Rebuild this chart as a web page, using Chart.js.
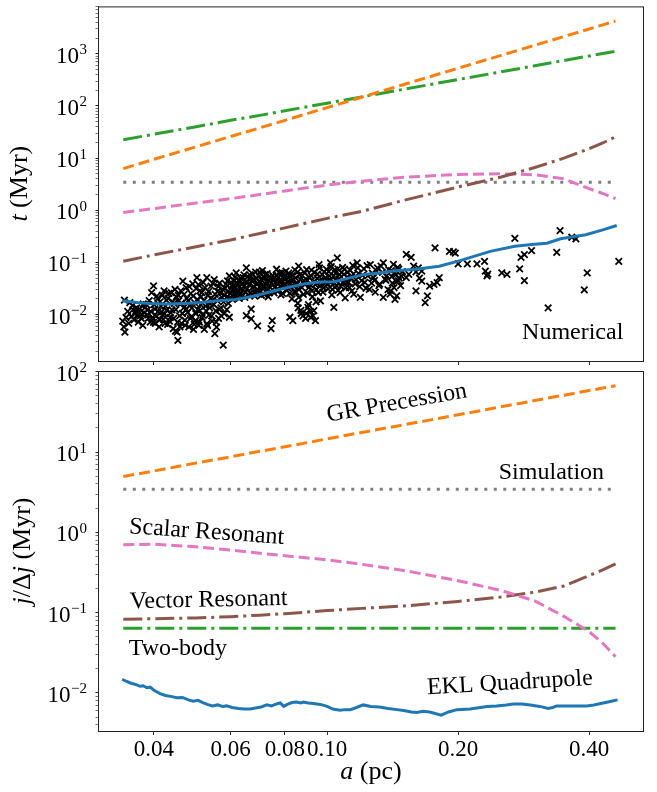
<!DOCTYPE html>
<html>
<head>
<meta charset="utf-8">
<script src="https://cdn.jsdelivr.net/npm/chart.js@4.4.1/dist/chart.umd.min.js"></script>
<style>
  html, body { margin: 0; padding: 0; background: #fff; }
  #lienzo { position: relative; width: 657px; height: 792px; }
  #lienzo canvas { position: absolute; left: 0; }
</style>
</head>
<body>
<div id="lienzo">
  <canvas id="panel-superior" width="657" height="368" style="top:0"></canvas>
  <canvas id="panel-inferior" width="657" height="447" style="top:345px"></canvas>
</div>
<script>
// Semiejes a (pc) comunes a las curvas suaves
const aCurvas = [0.034, 0.04, 0.05, 0.06, 0.07, 0.08, 0.10, 0.12, 0.15, 0.20, 0.25, 0.30, 0.35, 0.40, 0.43, 0.46];

// Panel superior: t (Myr)
const grSup       = [6.3, 9.5, 16.5, 26, 38, 53, 93, 147, 258, 529, 923, 1456, 2140, 2990, 3590, 4240];
const dosCuerposSup = [22.5, 28.7, 40, 53, 66, 81, 113, 149, 209, 321, 448, 589, 743, 908, 1012, 1120];
const escalarSup  = [0.91, 1.08, 1.38, 1.67, 2.0, 2.35, 3.05, 3.6, 4.3, 4.85, 5.0, 4.8, 4.0, 2.6, 2.1, 1.67];
const vectorSup   = [0.105, 0.14, 0.2, 0.27, 0.36, 0.46, 0.70, 0.95, 1.55, 2.8, 4.3, 6.6, 10, 15.2, 19.5, 25.7];
const simulacion  = [3.45, 3.45, 3.45, 3.45, 3.45, 3.45, 3.45, 3.45, 3.45, 3.45, 3.45, 3.45, 3.45, 3.45, 3.45, 3.45];

const eklSupA = [0.0338, 0.0365, 0.039, 0.0428, 0.047, 0.0513, 0.056, 0.0615, 0.0668, 0.073, 0.0798, 0.0891,
  0.096, 0.104, 0.112, 0.1216, 0.132, 0.145, 0.158, 0.181, 0.202, 0.237, 0.27, 0.295, 0.32, 0.344, 0.393, 0.43, 0.463];
const eklSupT = [0.0184, 0.0170, 0.0164, 0.0159, 0.0164, 0.0171, 0.0184, 0.0195, 0.0219, 0.0265, 0.032, 0.0392,
  0.0420, 0.0428, 0.0500, 0.059, 0.063, 0.070, 0.073, 0.0847, 0.1086, 0.163, 0.205, 0.22, 0.234, 0.284, 0.339, 0.42, 0.51];

// Resultados numéricos [a, t]
const numerico = [
  [0.0339,0.0075],[0.0341,0.0058],[0.0343,0.0046],[0.0342,0.019],[0.0352,0.017],[0.0362,0.0105],[0.0366,0.0098],
  [0.0369,0.011],[0.0372,0.0095],[0.0365,0.0135],[0.0358,0.0125],[0.0375,0.0102],
  [0.0378,0.016],[0.0382,0.0138],[0.0386,0.0122],[0.0388,0.0085],[0.0392,0.0072],[0.0395,0.0265],[0.0399,0.0354],
  [0.0399,0.0071],[0.0402,0.0128],[0.0405,0.0095],[0.0408,0.0205],[0.0411,0.0058],[0.0413,0.0175],[0.0416,0.0112],
  [0.0418,0.0235],[0.0420,0.0082],
  [0.0423,0.0103],[0.0425,0.0145],[0.0427,0.019],[0.0430,0.0065],[0.0433,0.0255],[0.0436,0.0088],[0.0438,0.0265],
  [0.0440,0.0123],[0.0443,0.0054],[0.0445,0.0165],[0.0448,0.0048],[0.0450,0.022],[0.0452,0.0046],[0.0454,0.0032],
  [0.0456,0.0184],[0.0458,0.0095],[0.0461,0.0285],[0.0463,0.0068],[0.0466,0.044],[0.0468,0.0135],
  [0.0471,0.0078],[0.0474,0.033],[0.0476,0.0205],[0.0478,0.011],[0.0481,0.0058],[0.0483,0.0148],[0.0486,0.0255],
  [0.0488,0.0092],[0.0491,0.039],[0.0493,0.0052],[0.0496,0.017],[0.0498,0.0077],[0.0500,0.0315],[0.0502,0.051],
  [0.0504,0.0125],[0.0507,0.0062],[0.0510,0.0119],[0.0510,0.0285],[0.0513,0.022],[0.0516,0.0088],
  [0.0519,0.0415],[0.0522,0.0052],[0.0525,0.0145],[0.0529,0.051],[0.0529,0.0067],[0.0532,0.0235],[0.0535,0.0098],
  [0.0538,0.016],[0.0541,0.035],[0.0544,0.0075],[0.0548,0.0195],[0.0550,0.047],[0.0552,0.0043],[0.0555,0.0118],
  [0.0557,0.00575],[0.0560,0.028],[0.0563,0.0085],[0.0566,0.04],[0.0570,0.0135],[0.0573,0.0215],[0.0577,0.0026],
  [0.0580,0.0105],[0.0583,0.032],[0.0587,0.0213],[0.0590,0.0445],[0.0593,0.0165],[0.0596,0.0089],[0.0596,0.055],
  [0.0600,0.0255],[0.0603,0.036],[0.0606,0.0195],[0.0609,0.0306],[0.0612,0.045],[0.0615,0.0235],[0.0618,0.063],
  [0.0621,0.028],[0.0624,0.038],[0.0628,0.0205],[0.0632,0.05],[0.0635,0.031],[0.0638,0.0225],
  [0.0641,0.051],[0.0645,0.035],[0.0648,0.027],[0.0652,0.079],[0.0652,0.0096],[0.0656,0.042],[0.0660,0.024],
  [0.0664,0.058],[0.0669,0.0128],[0.0669,0.0083],[0.0673,0.033],[0.0677,0.046],[0.0681,0.0265],[0.0685,0.065],
  [0.0689,0.038],[0.0692,0.0061],[0.0695,0.029],[0.0698,0.055],[0.0702,0.043],[0.0706,0.0235],[0.0710,0.07],[0.0714,0.034],
  [0.0718,0.05],[0.0722,0.028],[0.0724,0.038],[0.0728,0.061],[0.0732,0.022],[0.0736,0.045],[0.0740,0.033],
  [0.0743,0.0054],[0.0748,0.0077],[0.0750,0.056],[0.0755,0.026],[0.0760,0.041],[0.0765,0.074],[0.0770,0.031],
  [0.0774,0.052],[0.0778,0.044],[0.0783,0.024],[0.0788,0.064],[0.0792,0.036],[0.0797,0.048],
  [0.0804,0.068],[0.0808,0.029],[0.0813,0.042],[0.0818,0.055],[0.0821,0.0089],[0.0825,0.034],[0.0830,0.02],
  [0.0834,0.0077],[0.0838,0.047],[0.0843,0.072],[0.0848,0.027],[0.0852,0.038],[0.0856,0.0165],[0.0860,0.085],
  [0.0860,0.0213],[0.0865,0.058],[0.0870,0.012],[0.0875,0.033],[0.0880,0.0095],[0.0885,0.045],[0.0889,0.063],[0.0895,0.0105],
  [0.0900,0.026],[0.0903,0.0138],[0.0908,0.052],[0.0912,0.038],[0.0917,0.0089],[0.0920,0.071],[0.0925,0.022],
  [0.0932,0.0119],[0.0936,0.043],[0.0940,0.0077],[0.0945,0.03],[0.0950,0.06],[0.0958,0.091],[0.0962,0.035],
  [0.0965,0.0184],[0.0970,0.048],[0.0978,0.027],[0.0985,0.066],[0.0992,0.04],[0.1000,0.044],
  [0.1005,0.031],[0.1012,0.055],[0.1018,0.098],[0.1025,0.024],[0.1030,0.037],[0.1036,0.0138],[0.1042,0.072],
  [0.1048,0.045],[0.1055,0.122],[0.1060,0.029],[0.1068,0.058],[0.1075,0.035],[0.1085,0.08],[0.1093,0.059],
  [0.1100,0.021],[0.1108,0.042],[0.1115,0.065],[0.1125,0.033],[0.1135,0.05],[0.1145,0.088],
  [0.1151,0.0247],[0.1160,0.039],[0.1172,0.098],[0.1180,0.062],[0.1192,0.0213],[0.1200,0.045],[0.1215,0.075],
  [0.1228,0.032],[0.1240,0.055],[0.1256,0.091],[0.1265,0.04],[0.1278,0.051],[0.1290,0.027],[0.1300,0.068],
  [0.1315,0.036],[0.1330,0.085],[0.1346,0.098],[0.1346,0.0213],[0.1358,0.048],[0.1370,0.055],[0.1380,0.03],[0.1395,0.0247],
  [0.1400,0.0285],[0.1405,0.07],[0.1412,0.04],[0.1420,0.092],[0.1425,0.033],[0.1432,0.0196],[0.1438,0.058],
  [0.1445,0.0229],[0.1452,0.08],[0.1458,0.045],[0.1465,0.05],[0.1475,0.036],[0.1490,0.067],[0.1520,0.051],
  [0.1520,0.143],[0.1540,0.059],[0.1560,0.125],[0.1580,0.085],[0.1600,0.066],[0.1600,0.0285],[0.1620,0.079],
  [0.1630,0.05],[0.1650,0.044],[0.1650,0.068],[0.1680,0.017],[0.1700,0.0229],[0.1720,0.035],[0.1760,0.038],
  [0.1770,0.19],[0.1790,0.041],[0.1810,0.051],[0.1910,0.163],[0.1950,0.16],[0.1970,0.151],[0.2000,0.094],
  [0.2100,0.094],[0.2210,0.094],[0.2300,0.105],[0.2310,0.068],[0.2330,0.055],[0.2340,0.06],[0.2520,0.063],
  [0.2590,0.059],[0.2700,0.29],[0.2770,0.075],[0.2790,0.125],[0.2840,0.141],[0.2840,0.045],[0.2950,0.168],
  [0.3220,0.0134],[0.3370,0.156],[0.3430,0.407],[0.3650,0.304],[0.3730,0.284],[0.3900,0.0297],[0.3960,0.063],[0.4680,0.105],
  // zona densa
  [0.0345,0.0088],[0.0348,0.0115],[0.0350,0.0068],[0.0355,0.0092],[0.0357,0.0148],[0.0360,0.0079],[0.0363,0.0115],
  [0.0368,0.0072],[0.0371,0.0128],[0.0374,0.0085],[0.0377,0.0062],[0.0380,0.0108],[0.0384,0.0155],[0.0387,0.0098],
  [0.0390,0.0185],[0.0393,0.0115],[0.0397,0.0088],[0.0400,0.0155],[0.0403,0.0068],[0.0406,0.0225],[0.0409,0.0115],
  [0.0412,0.0078],[0.0415,0.0145],[0.0419,0.0098],[0.0422,0.0285],[0.0424,0.0068],[0.0428,0.0122],[0.0431,0.0205],
  [0.0434,0.0075],[0.0437,0.0108],[0.0441,0.0175],[0.0444,0.0085],[0.0447,0.0305],[0.0449,0.0125],[0.0453,0.0072],
  [0.0455,0.0235],
  [0.0459,0.0058],[0.0462,0.0165],[0.0465,0.0105],[0.0469,0.0245],[0.0472,0.0062],[0.0475,0.0128],[0.0479,0.0185],
  [0.0482,0.0345],[0.0485,0.0085],[0.0489,0.0135],[0.0492,0.0225],[0.0495,0.0065],[0.0499,0.0105],[0.0503,0.0195],
  [0.0506,0.0375],[0.0509,0.0072],[0.0512,0.0155],[0.0515,0.0265],[0.0518,0.0098],[0.0521,0.0185],[0.0524,0.0325],
  [0.0527,0.0118],[0.0531,0.0062],[0.0534,0.0275],[0.0537,0.0135],[0.0540,0.0205],[0.0543,0.0095],[0.0546,0.0395],
  [0.0549,0.0155],[0.0553,0.0245],[0.0556,0.0072],[0.0559,0.0185],[0.0562,0.0345],[0.0565,0.0125],[0.0568,0.0265],
  [0.0571,0.0095],[0.0575,0.0305],[0.0578,0.0175],[0.0581,0.0235],[0.0585,0.0385],[0.0588,0.0125],[0.0591,0.0275],
  [0.0595,0.0205],
  [0.0601,0.0415],[0.0604,0.0285],[0.0608,0.0225],[0.0611,0.0355],[0.0614,0.0525],[0.0617,0.0265],[0.0620,0.0405],
  [0.0623,0.0215],[0.0627,0.0335],[0.0630,0.0455],[0.0634,0.0255],[0.0637,0.0385],[0.0640,0.0295],[0.0644,0.0575],
  [0.0647,0.0215],[0.0651,0.0425],[0.0655,0.0315],[0.0658,0.0535],[0.0662,0.0375],[0.0666,0.0255],[0.0670,0.0445],
  [0.0674,0.0605],[0.0678,0.0345],[0.0682,0.0225],[0.0686,0.0495],[0.0690,0.0305],[0.0694,0.0395],[0.0699,0.0655],
  [0.0703,0.0275],[0.0708,0.0455],[0.0712,0.0355],[0.0716,0.0245],[0.0720,0.0585],[0.0726,0.0425],[0.0730,0.0315],
  [0.0734,0.0525],[0.0738,0.0265],[0.0744,0.0395],[0.0752,0.0475],[0.0758,0.0335],[0.0763,0.0565],[0.0768,0.0405],
  [0.0772,0.0285],[0.0777,0.0625],[0.0781,0.0355],[0.0786,0.0455],[0.0790,0.0255],[0.0795,0.0545],
  [0.0801,0.0385],[0.0806,0.0495],[0.0811,0.0325],[0.0816,0.0625],[0.0820,0.0255],[0.0827,0.0445],[0.0832,0.0565],
  [0.0836,0.0355],[0.0841,0.0275],[0.0846,0.0505],[0.0850,0.0395],[0.0855,0.0655],[0.0858,0.0135],[0.0862,0.0305],
  [0.0867,0.0475],[0.0872,0.0105],[0.0877,0.0565],[0.0882,0.0245],[0.0887,0.0385],[0.0892,0.0085],[0.0897,0.0725],
  [0.0901,0.0455],[0.0906,0.0155],[0.0910,0.0335],[0.0915,0.0115],[0.0919,0.0555],[0.0923,0.0285],[0.0928,0.0095],
  [0.0934,0.0645],[0.0939,0.0375],[0.0943,0.0175],[0.0948,0.0495],[0.0954,0.0265],[0.0960,0.0785],[0.0968,0.0425],
  [0.0975,0.0585],[0.0982,0.0325],[0.0989,0.0505],[0.0996,0.0735],
  [0.1002,0.0385],[0.1009,0.0665],[0.1015,0.0455],[0.1022,0.0835],[0.1028,0.0305],[0.1034,0.0545],[0.1040,0.0405],
  [0.1046,0.0625],[0.1052,0.0355],[0.1058,0.0755],[0.1064,0.0485],[0.1071,0.0265],[0.1079,0.0645],[0.1089,0.0425],
  [0.1096,0.0745],[0.1104,0.0325],[0.1112,0.0525],[0.1120,0.0415],[0.1130,0.0705],[0.1140,0.0285],[0.1150,0.0605],
  [0.1165,0.0465],[0.1176,0.0785],[0.1188,0.0345],[0.1205,0.0565],[0.1220,0.0415],[0.1235,0.0865],[0.1250,0.0305],
  [0.1270,0.0625],[0.1285,0.0455],[0.1305,0.0785],[0.1320,0.0385],[0.1340,0.0645],[0.1365,0.0455],[0.1385,0.0725],
  [0.1408,0.0535],[0.1428,0.0635],[0.1442,0.0435],[0.1460,0.0745],[0.1480,0.0555]
];

// Panel inferior: j/Δj (Myr)
const grInf        = [4.95, 5.8, 7.3, 8.7, 10.2, 11.6, 14.6, 17.5, 21.8, 29.1, 36.4, 43.7, 51, 58.2, 62.6, 67];
const escalarInf   = [0.70, 0.71, 0.66, 0.60, 0.55, 0.51, 0.455, 0.40, 0.335, 0.25, 0.19, 0.14, 0.09, 0.058, 0.0416, 0.0283];
const vectorInf    = [0.083, 0.084, 0.086, 0.089, 0.093, 0.097, 0.106, 0.113, 0.121, 0.138, 0.156, 0.18, 0.215, 0.29, 0.34, 0.405];
const dosCuerposInf = [0.064, 0.064, 0.064, 0.064, 0.064, 0.064, 0.064, 0.064, 0.064, 0.064, 0.064, 0.064, 0.064, 0.064, 0.064, 0.064];

const eklInfA = [0.0338, 0.0345, 0.0352, 0.0358, 0.0365, 0.0372, 0.0378, 0.0385, 0.0392, 0.0400, 0.0413, 0.0425,
  0.0440, 0.0451, 0.0465, 0.0480, 0.0492, 0.0505, 0.0518, 0.0530, 0.0545, 0.0560, 0.0575, 0.0587, 0.0605, 0.0625,
  0.0645, 0.0665, 0.0685, 0.0705, 0.0727, 0.0745, 0.0765, 0.0780, 0.0795, 0.0810, 0.0830, 0.0850, 0.0870, 0.0882,
  0.0905, 0.0930, 0.0964, 0.1000, 0.1030, 0.1070, 0.1100, 0.1130, 0.1160, 0.1210, 0.1260, 0.1320, 0.1380, 0.1450,
  0.1510, 0.1560, 0.1610, 0.1660, 0.1720, 0.1780, 0.1830, 0.1900, 0.1990, 0.2130, 0.2250, 0.2330, 0.2450, 0.2580,
  0.2680, 0.2800, 0.2930, 0.3080, 0.3220, 0.3300, 0.3370, 0.3550, 0.3750, 0.3950, 0.4100, 0.4310, 0.4500, 0.4650];
const eklInfJ = [0.0148, 0.0140, 0.0134, 0.0130, 0.0126, 0.0121, 0.0123, 0.0116, 0.0118, 0.0108, 0.0098, 0.0093,
  0.0090, 0.0087, 0.0088, 0.0082, 0.0079, 0.0081, 0.0076, 0.0072, 0.0069, 0.0071, 0.0068, 0.0069, 0.0066, 0.0064,
  0.0063, 0.0063, 0.0065, 0.0067, 0.0071, 0.0069, 0.0073, 0.0075, 0.0068, 0.0072, 0.0076, 0.0077, 0.0075, 0.0077,
  0.0075, 0.0074, 0.0072, 0.0068, 0.0063, 0.0061, 0.0062, 0.0062, 0.0065, 0.0071, 0.0068, 0.0067, 0.0064, 0.0062,
  0.0060, 0.0058, 0.0057, 0.0059, 0.0058, 0.0055, 0.0053, 0.0058, 0.0062, 0.0063, 0.0066, 0.0068, 0.0069, 0.0071,
  0.0073, 0.0073, 0.0071, 0.0068, 0.0064, 0.0066, 0.0069, 0.0069, 0.0069, 0.0069, 0.0071, 0.0075, 0.0079, 0.0082];

// Marcas del eje x
const marcasA = [0.04, 0.06, 0.08, 0.10, 0.20, 0.40];

const FUENTE = "'Liberation Serif', 'Times New Roman', 'DejaVu Serif', serif";
const TAM_MARCA = 23;
const TAM_EXPONENTE = 15;
const TAM_NOTA = 24;
const TAM_TITULO = 26;

Chart.defaults.font.family = FUENTE;
Chart.defaults.color = '#000';

function exponente(valor) {
  const e = Math.log10(valor);
  return Math.abs(e - Math.round(e)) < 1e-9 ? Math.round(e) : null;
}

// Marcas 1..9 x 10^n dentro del rango
function marcasLog(min, max) {
  const marcas = [];
  for (let e = Math.floor(Math.log10(min)); e <= Math.ceil(Math.log10(max)); e++) {
    for (let m = 1; m <= 9; m++) {
      const v = m * Math.pow(10, e);
      if (v >= min && v <= max) marcas.push(v);
    }
  }
  return marcas;
}

function serie(xs, ys) {
  return xs.map((x, i) => ({ x: x, y: ys[i] }));
}

function linea(datos, color, ancho, trazo) {
  return { data: datos, borderColor: color, borderWidth: ancho, borderDash: trazo,
    pointRadius: 0, fill: false, tension: 0 };
}

function ejeX(conEtiquetas, alto) {
  return {
    type: 'logarithmic', min: 0.0299, max: 0.532,
    afterBuildTicks: s => { s.ticks = marcasA.map(v => ({ value: v })); },
    afterFit: s => { s.height = alto; s.paddingLeft = 0; s.paddingRight = 0; },
    ticks: { display: conEtiquetas, autoSkip: false, maxRotation: 0, padding: 1,
      font: { size: TAM_MARCA }, color: '#000', callback: v => Number(v).toFixed(2) },
    grid: { drawOnChartArea: false, drawTicks: true, tickLength: 4, tickColor: '#333' },
    border: { display: false }
  };
}

// Las etiquetas 10^n se dibujan en el plugin (con exponente)
function ejeY(min, max) {
  return {
    type: 'logarithmic', min: min, max: max,
    afterBuildTicks: s => { s.ticks = marcasLog(min, max).map(v => ({ value: v })); },
    afterFit: s => { s.width = 99; s.paddingTop = 0; s.paddingBottom = 0; },
    ticks: { display: false, autoSkip: false },
    grid: { drawOnChartArea: false, drawTicks: true, tickLength: 3.5,
      tickColor: c => (exponente(c.tick.value) !== null ? '#222' : '#777') },
    border: { display: false }
  };
}

function dibujarMixto(ctx, partes, x, y, giro, base) {
  ctx.save();
  ctx.translate(x, y);
  ctx.rotate(giro);
  ctx.textBaseline = base;
  ctx.textAlign = 'left';
  const fuente = p => (p.cursiva ? 'italic ' : '') + TAM_TITULO + 'px ' + FUENTE;
  let total = 0;
  partes.forEach(p => { ctx.font = fuente(p); total += ctx.measureText(p.texto).width; });
  let cx = -total / 2;
  partes.forEach(p => {
    ctx.font = fuente(p);
    ctx.fillText(p.texto, cx, 0);
    cx += ctx.measureText(p.texto).width;
  });
  ctx.restore();
}

// Marco, etiquetas 10^n, anotaciones y títulos de ejes
const textosPanel = {
  id: 'textosPanel',
  afterDatasetsDraw(chart, args, opts) {
    const { ctx, chartArea: ca, scales } = chart;
    ctx.save();
    ctx.strokeStyle = '#222';
    ctx.lineWidth = 1;
    ctx.strokeRect(ca.left - 0.5, ca.top + 0.5, ca.right - ca.left + 1, ca.bottom - ca.top);

    ctx.fillStyle = '#000';
    ctx.textAlign = 'left';
    ctx.textBaseline = 'alphabetic';

    // etiquetas del eje y
    const derecha = ca.left - 12;
    scales.y.ticks.forEach(t => {
      const e = exponente(t.value);
      if (e === null) return;
      const y = scales.y.getPixelForValue(t.value);
      const txtE = String(e).replace('-', '\u2212');
      ctx.font = TAM_EXPONENTE + 'px ' + FUENTE;
      const anchoE = ctx.measureText(txtE).width;
      ctx.fillText(txtE, derecha - anchoE, y + 0.5);
      ctx.font = TAM_MARCA + 'px ' + FUENTE;
      const anchoB = ctx.measureText('10').width;
      ctx.fillText('10', derecha - anchoE - anchoB - 0.5, y + 9);
    });

    ctx.font = TAM_NOTA + 'px ' + FUENTE;
    (opts.notas || []).forEach(n => {
      const x = scales.x.getPixelForValue(n.a);
      const y = scales.y.getPixelForValue(n.v);
      ctx.save();
      ctx.translate(x, y);
      ctx.rotate(n.giro * Math.PI / 180);
      ctx.fillText(n.texto, 0, 0);
      ctx.restore();
    });

    if (opts.tituloY) {
      dibujarMixto(ctx, opts.tituloY, opts.xTituloY, (ca.top + ca.bottom) / 2, -Math.PI / 2, 'middle');
    }
    if (opts.tituloX) {
      dibujarMixto(ctx, opts.tituloX, (ca.left + ca.right) / 2, opts.yTituloX, 0, 'alphabetic');
    }
    ctx.restore();
  }
};

const AZUL = '#1f77b4', NARANJA = '#ff7f0e', VERDE = '#2ca02c', MARRON = '#8c564b', ROSA = '#e377c2', GRIS = '#7f7f7f';
const RAYAS = [11, 5], RAYA_PUNTO = [19, 5, 3, 5], PUNTOS = [3, 6.5];

const opcionesBase = {
  responsive: false,
  animation: false,
  events: [],
  plugins: { legend: { display: false }, tooltip: { enabled: false } }
};

new Chart(document.getElementById('panel-superior'), {
  type: 'line',
  data: {
    datasets: [
      linea(serie(eklSupA, eklSupT), AZUL, 3, []),
      { data: numerico.map(p => ({ x: p[0], y: p[1] })), showLine: false, pointStyle: 'crossRot',
        pointRadius: 4.6, pointBorderWidth: 1.8, pointBorderColor: '#000', pointBackgroundColor: '#000' },
      linea(serie(aCurvas, grSup), NARANJA, 3, RAYAS),
      linea(serie(aCurvas, dosCuerposSup), VERDE, 3, RAYA_PUNTO),
      linea(serie(aCurvas, vectorSup), MARRON, 3, RAYA_PUNTO),
      linea(serie(aCurvas, escalarSup), ROSA, 3, RAYAS),
      linea(serie(aCurvas, simulacion), GRIS, 3, PUNTOS)
    ]
  },
  options: {
    ...opcionesBase,
    layout: { padding: { top: 2, right: 14, left: 0, bottom: 0 } },
    scales: { x: ejeX(false, 7), y: ejeY(1.29e-3, 8100) },
    plugins: {
      ...opcionesBase.plugins,
      textosPanel: {
        notas: [{ texto: 'Numerical', a: 0.2805, v: 0.00347, giro: 0 }],
        tituloY: [{ texto: 't', cursiva: true }, { texto: ' (Myr)' }],
        xTituloY: 20
      }
    }
  },
  plugins: [textosPanel]
});

new Chart(document.getElementById('panel-inferior'), {
  type: 'line',
  data: {
    datasets: [
      linea(serie(eklInfA, eklInfJ), AZUL, 3, []),
      linea(serie(aCurvas, grInf), NARANJA, 3, RAYAS),
      linea(serie(aCurvas, simulacion), GRIS, 3, PUNTOS),
      linea(serie(aCurvas, escalarInf), ROSA, 3, RAYAS),
      linea(serie(aCurvas, vectorInf), MARRON, 3, RAYA_PUNTO),
      linea(serie(aCurvas, dosCuerposInf), VERDE, 3, RAYA_PUNTO)
    ]
  },
  options: {
    ...opcionesBase,
    layout: { padding: { top: 26, right: 14, left: 0, bottom: 0 } },
    scales: { x: ejeX(true, 61), y: ejeY(3.36e-3, 102) },
    plugins: {
      ...opcionesBase.plugins,
      textosPanel: {
        notas: [
          { texto: 'GR Precession', a: 0.1005, v: 23.8, giro: -10 },
          { texto: 'Simulation', a: 0.248, v: 4.6, giro: 0 },
          { texto: 'Scalar Resonant', a: 0.035, v: 0.977, giro: 4 },
          { texto: 'Vector Resonant', a: 0.0352, v: 0.1136, giro: -1.2 },
          { texto: 'Two-body', a: 0.035, v: 0.0297, giro: 0 },
          { texto: 'EKL Quadrupole', a: 0.170, v: 0.00964, giro: -3.3 }
        ],
        tituloY: [{ texto: 'j', cursiva: true }, { texto: '/\u0394' }, { texto: 'j', cursiva: true }, { texto: ' (Myr)' }],
        xTituloY: 23,
        tituloX: [{ texto: 'a', cursiva: true }, { texto: ' (pc)' }],
        yTituloX: 434
      }
    }
  },
  plugins: [textosPanel]
});
</script>
</body>
</html>
